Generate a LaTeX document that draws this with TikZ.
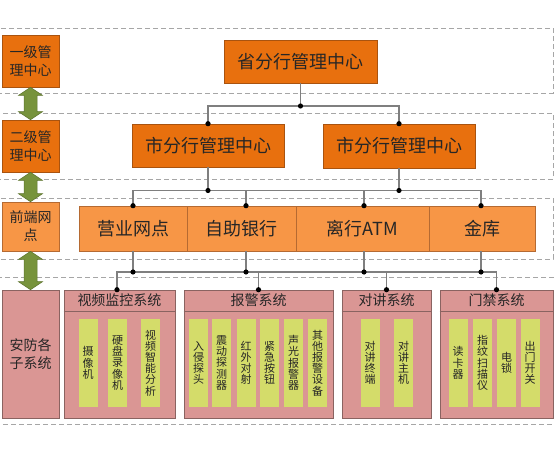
\documentclass[tikz,border=0pt]{standalone}
\usepackage{fontspec}
\setmainfont{Noto Sans CJK SC}
\usetikzlibrary{calc}
\definecolor{dorange}{HTML}{E8700E}
\definecolor{dorangeD}{HTML}{A9530F}
\definecolor{lorange}{HTML}{F79646}
\definecolor{lorangeD}{HTML}{B56A32}
\definecolor{pinkc}{HTML}{DA9694}
\definecolor{pinkD}{HTML}{8A6361}
\definecolor{yellowc}{HTML}{D4DC6A}
\definecolor{greenc}{HTML}{77933C}
\definecolor{greenD}{HTML}{5E752F}
\definecolor{txt}{HTML}{262626}
\definecolor{connc}{HTML}{7F7F7F}
\definecolor{bandc}{HTML}{A6A6A6}
\begin{document}
\begin{tikzpicture}[x=1pt,y=-1pt,
  every node/.style={text=txt, inner sep=0pt},
  band/.style={draw=bandc, line width=0.9pt, dash pattern=on 5pt off 3pt},
  darkbox/.style={draw=dorangeD, fill=dorange, line width=0.6pt},
  lightbox/.style={draw=lorangeD, fill=lorange, line width=0.6pt},
  subbox/.style={draw=pinkD, fill=pinkc, line width=0.6pt},
  bar/.style={fill=yellowc, minimum width=19pt, minimum height=88pt, align=center,
    font=\fontsize{11}{11.2}\selectfont},
  big/.style={font=\fontsize{18}{20}\selectfont},
  lbl/.style={font=\fontsize{14}{18}\selectfont, align=center},
  head/.style={font=\fontsize{14}{16}\selectfont},
  conn/.style={draw=connc, line width=1.1pt},
  dotc/.style={fill=black}
]
\useasboundingbox (0,0) rectangle (555,450);

% dashed bands
\draw[band] (-2,28) rectangle (553,93);
\draw[band] (-2,113) rectangle (553,179);
\draw[band] (-2,198) rectangle (553,259);
\draw[band] (-2,277) rectangle (557,424);

% level labels
\node[darkbox, lbl, minimum width=57pt, minimum height=52pt] (l1) at (30.5,61) {一级管\\理中心};
\node[darkbox, lbl, minimum width=57pt, minimum height=52pt] (l2) at (30.5,146) {二级管\\理中心};
\node[lightbox, lbl, minimum width=57pt, minimum height=49pt] (l3) at (30.5,226.5) {前端网\\点};
\node[subbox, lbl, minimum width=57pt, minimum height=128pt] (l4) at (30.5,354) {安防各\\子系统};

% green double arrows
\newcommand\greenarrow[2]{%
  \filldraw[fill=greenc, draw=greenD, line width=0.5pt]
    (#1.south) -- ($(#1.south)+(12,8)$) -- ($(#1.south)+(6.5,8)$)
    -- ($(#2.north)+(6.5,-8)$) -- ($(#2.north)+(12,-8)$) -- (#2.north)
    -- ($(#2.north)+(-12,-8)$) -- ($(#2.north)+(-6.5,-8)$)
    -- ($(#1.south)+(-6.5,8)$) -- ($(#1.south)+(-12,8)$) -- cycle;}
\greenarrow{l1}{l2}
\greenarrow{l2}{l3}
\greenarrow{l3}{l4}

% management nodes
\node[darkbox, big, minimum width=153pt, minimum height=43pt] (sheng) at (300.5,61.5) {省分行管理中心};
\node[darkbox, big, minimum width=152pt, minimum height=43pt] (shiL) at (208,145.5) {市分行管理中心};
\node[darkbox, big, minimum width=152pt, minimum height=44pt] (shiR) at (399,146) {市分行管理中心};

% front row
\node[lightbox, big, minimum width=108pt, minimum height=45pt] (yy) at (133,228.5) {营业网点};
\node[lightbox, big, minimum width=109pt, minimum height=45pt] (zz) at (241.5,228.5) {自助银行};
\node[lightbox, big, minimum width=133pt, minimum height=45pt] (atm) at (362.5,228.5) {离行ATM};
\node[lightbox, big, minimum width=106pt, minimum height=45pt] (jk) at (482,228.5) {金库};

% subsystems
\node[subbox, minimum width=111pt, minimum height=128pt] (sv) at (119.5,354) {};
\node[subbox, minimum width=149pt, minimum height=128pt] (sa) at (258.5,354) {};
\node[subbox, minimum width=89pt, minimum height=128pt] (st) at (386.5,354) {};
\node[subbox, minimum width=113pt, minimum height=128pt] (sd) at (496.5,354) {};
\foreach \s in {sv,sa,st,sd}{
  \draw[draw=pinkD, line width=0.6pt] (\s.west |- 0,311) -- (\s.east |- 0,311);
}
\node[head] (svh) at (119.5,300.5) {视频监控系统};
\node[head] (sah) at (258.5,300.5) {报警系统};
\node[head] (sth) at (386.5,300.5) {对讲系统};
\node[head] (sdh) at (496.5,300.5) {门禁系统};

% bars
\node[bar] (v1) at (88,363) {摄\\像\\机};
\node[bar] (v2) at (117.5,363) {硬\\盘\\录\\像\\机};
\node[bar] (v3) at (150.5,363) {视\\频\\智\\能\\分\\析};
\node[bar] (a1) at (198.5,363) {入\\侵\\探\\头};
\node[bar] (a2) at (221.5,363) {震\\动\\探\\测\\器};
\node[bar] (a3) at (246,363) {红\\外\\对\\射};
\node[bar] (a4) at (269.5,363) {紧\\急\\按\\钮};
\node[bar] (a5) at (293.5,363) {声\\光\\报\\警\\器};
\node[bar] (a6) at (317.5,363) {其\\他\\报\\警\\设\\备};
\node[bar] (t1) at (370,363) {对\\讲\\终\\端};
\node[bar] (t2) at (403.5,363) {对\\讲\\主\\机};
\node[bar] (d1) at (458,363) {读\\卡\\器};
\node[bar] (d2) at (482.5,363) {指\\纹\\扫\\描\\仪};
\node[bar] (d3) at (506.5,363) {电\\锁};
\node[bar] (d4) at (530,363) {出\\门\\开\\关};

% connectors level 1 -> 2
\coordinate (b1) at ($(sheng.south |- 0,106)$);
\draw[conn] (sheng.south) -- (b1);
\draw[conn] (shiL.north) -- (shiL.north |- b1) -- (shiR.north |- b1) -- (shiR.north);
\foreach \p in {b1, shiL.north, shiR.north} \fill[dotc] (\p) circle (2.6pt);

% connectors level 2 -> front
\coordinate (zzt) at ($(zz.north)+(4.5,0)$);
\coordinate (atmt) at ($(atm.north)+(1.5,0)$);
\coordinate (jkt) at ($(jk.north)+(-1,0)$);
\draw[conn] (shiL.south) -- (shiL.south |- 0,190.5);
\draw[conn] (shiR.south) -- (shiR.south |- 0,190.5);
\draw[conn] (yy.north) -- (yy.north |- 0,190.5) -- (jkt |- 0,190.5) -- (jkt);
\draw[conn] (zzt) -- (zzt |- 0,190.5);
\draw[conn] (atmt) -- (atmt |- 0,190.5);
\fill[dotc] (shiL.south |- 0,190.5) circle (2.6pt);
\fill[dotc] (shiR.south |- 0,190.5) circle (2.6pt);
\foreach \p in {yy.north, zzt, atmt, jkt} \fill[dotc] (\p) circle (2.6pt);

% connectors front -> subsystems
\coordinate (zzb) at ($(zz.south)+(4.5,0)$);
\coordinate (atmb) at ($(atm.south)+(1.5,0)$);
\coordinate (jkb) at ($(jk.south)+(-1,0)$);
\coordinate (svt) at ($(sv.north)+(-2.5,0)$);
\coordinate (sdt) at (sd.north);
\foreach \p in {yy.south, zzb, atmb, jkb} {
  \draw[conn] (\p) -- (\p |- 0,272);
}
\draw[conn] (svt) -- (svt |- 0,272) -- (sdt |- 0,272) -- (sdt);
\draw[conn] (sa.north) -- (sa.north |- 0,272);
\draw[conn] (st.north) -- (st.north |- 0,272);
\foreach \p in {yy.south, zzb, atmb, jkb} \fill[dotc] (\p |- 0,272) circle (2.6pt);
\foreach \p in {svt, sa.north, st.north, sdt} \fill[dotc] (\p) circle (2.6pt);
\end{tikzpicture}
\end{document}
